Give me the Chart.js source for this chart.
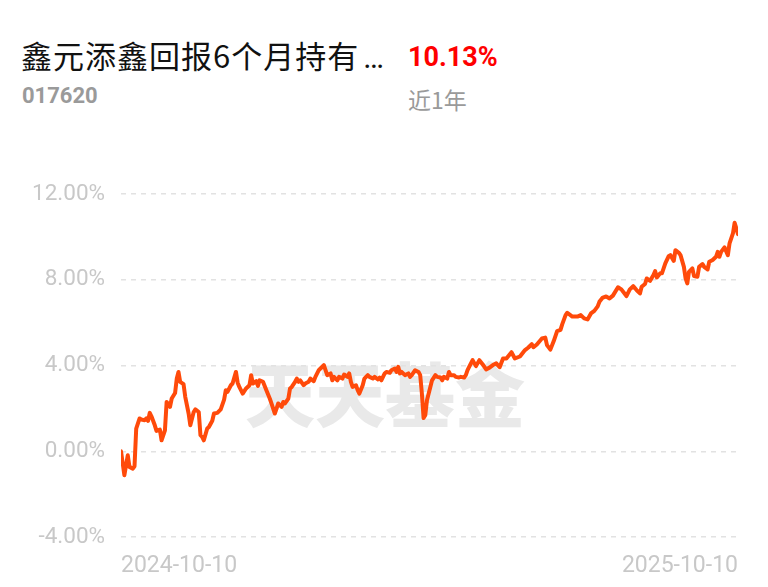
<!DOCTYPE html>
<html><head><meta charset="utf-8">
<script src="https://cdn.jsdelivr.net/npm/chart.js@4.4.0/dist/chart.umd.min.js"></script>
<style>
html,body{margin:0;padding:0;background:#fff;width:768px;height:587px;overflow:hidden;font-family:"Noto Sans CJK SC","Noto Sans",sans-serif;}
#wrap{position:relative;width:768px;height:587px;}
.t{position:absolute;white-space:nowrap;}
#title{left:21px;top:37px;font-size:31px;color:#111;line-height:36px;letter-spacing:1px;}
#title .el{font-family:Roboto,sans-serif;letter-spacing:1px;margin-left:4px;}
#ret{left:408px;top:39px;font-size:27px;color:#f00;font-weight:700;line-height:36px;font-family:Roboto,"Noto Sans",sans-serif;}
#code{left:22px;top:82px;font-size:22px;color:#9a9a9a;font-weight:700;line-height:28px;font-family:Roboto,"Noto Sans",sans-serif;}
#period{left:408px;top:84px;font-size:23px;color:#9a9a9a;line-height:30px;}
#wm{left:245px;top:356px;font-size:70px;line-height:72px;color:#e9e9e9;font-weight:900;}
canvas{position:absolute;left:0;top:0;}
</style></head>
<body><div id="wrap">
<div class="t" id="title">鑫元添鑫回报6个月持有<span class="el">…</span></div>
<div class="t" id="ret">10.13%</div>
<div class="t" id="code">017620</div>
<div class="t" id="period">近1年</div>
<div class="t" id="wm">天天基金</div>
<canvas id="c" width="768" height="587"></canvas>
</div>
<script>
const startDate = '2024-10-10';
const xTickLabels = ['2024-10-10', '2025-10-10'];
const yTickValues = [-4, 0, 4, 8, 12];
const days = [0,2,4,5,7,8,9,11,12,14,15,16,17,18,20,21,23,24,26,27,29,30,32,33,34,35,37,38,40,41,43,44,46,47,48,49,51,52,54,55,57,59,61,62,63,65,66,68,69,70,72,74,76,77,78,80,81,82,84,86,88,89,91,92,93,95,96,97,99,100,101,103,104,105,106,108,109,111,112,114,115,117,118,120,121,122,124,125,126,128,129,131,132,134,135,136,137,139,140,141,143,144,146,147,149,150,152,153,154,156,157,159,160,162,163,164,165,166,168,170,171,172,174,176,177,178,179,180,181,183,184,186,187,189,190,191,193,194,195,197,198,200,201,203,204,205,207,208,210,212,214,216,218,220,222,224,226,228,231,233,236,239,241,243,244,246,249,251,252,254,256,258,260,261,263,264,267,270,272,274,276,278,280,282,283,285,287,289,291,294,296,299,301,303,305,307,308,310,311,313,315,316,317,319,320,322,324,325,327,328,330,331,333,334,335,336,338,339,341,342,344,345,347,348,350,352,353,354,355,357,359,360,362,363,364,365];
const returns = [0.00,-1.12,-0.19,-0.73,-0.81,-0.70,1.06,1.53,1.48,1.45,1.53,1.42,1.79,1.63,1.21,0.95,1.01,0.51,0.98,2.30,2.07,2.46,2.72,3.39,3.70,3.24,3.13,2.54,1.76,1.21,1.83,1.95,1.83,0.75,0.67,0.51,1.06,1.13,1.42,1.76,1.79,1.95,2.41,2.85,2.77,3.08,3.16,3.70,3.20,3.00,2.69,2.93,3.08,3.55,3.16,3.27,3.05,3.31,3.24,2.85,2.46,2.23,1.76,1.99,2.23,2.07,2.30,2.23,2.46,2.93,3.00,3.24,3.39,3.24,3.31,3.08,3.16,3.24,3.39,3.27,3.47,3.78,3.86,4.02,3.78,3.55,3.63,3.31,3.47,3.31,3.47,3.39,3.58,3.47,3.63,3.24,3.00,3.08,2.85,2.69,3.08,3.39,3.55,3.47,3.39,3.47,3.35,3.44,3.31,3.63,3.70,3.66,3.78,3.86,3.70,3.94,3.63,3.70,3.55,3.63,3.47,3.55,3.78,3.70,3.55,2.69,1.55,1.68,2.38,3.00,3.31,3.55,3.47,3.44,3.31,3.47,3.39,3.70,3.55,3.55,3.47,3.44,3.47,3.44,3.55,3.78,4.10,4.25,3.97,4.25,4.05,3.82,3.90,4.02,4.10,3.92,4.33,4.33,4.62,4.33,4.42,4.72,4.84,5.00,4.85,4.98,5.26,5.30,4.95,4.74,5.14,5.60,5.66,5.92,6.35,6.46,6.28,6.28,6.35,6.20,6.15,6.43,6.55,6.76,6.97,7.17,7.22,7.13,7.26,7.65,7.55,7.24,7.55,7.70,7.52,7.36,7.67,7.80,8.06,7.95,8.22,8.40,8.11,8.30,8.30,8.76,9.10,9.15,8.88,9.38,9.26,9.15,8.60,8.06,7.83,8.37,8.53,8.17,8.14,8.60,8.73,8.60,8.48,8.84,8.92,9.07,9.30,9.07,9.30,9.51,9.15,9.70,10.16,10.66,10.40,10.13];

const points = days.map((d, i) => ({ x: d, y: returns[i] }));
const xFont = { family: 'Roboto, "Liberation Sans", sans-serif', size: 23 };
const yFont = { family: 'Roboto, "Liberation Sans", sans-serif', size: 22.5 };

new Chart(document.getElementById('c'), {
  type: 'line',
  data: { datasets: [{
    data: points,
    borderColor: '#ff4a0a',
    borderWidth: 4,
    pointRadius: 0,
    tension: 0,
    fill: false,
    borderJoinStyle: 'round',
    borderCapStyle: 'round'
  }]},
  options: {
    responsive: false,
    animation: false,
    layout: { padding: { top: 194, right: 30, bottom: 0, left: 0 } },
    plugins: { legend: { display: false }, tooltip: { enabled: false } },
    scales: {
      x: {
        type: 'linear', min: 0, max: 365,
        grid: { display: false, drawTicks: false },
        border: { display: false },
        afterBuildTicks: s => { s.ticks = [{ value: 0 }, { value: 365 }]; },
        afterFit: s => { s.height = 50; },
        ticks: {
          align: 'inner', maxRotation: 0, autoSkip: false, padding: 15,
          font: xFont, color: '#c8c8c8',
          callback: (v, i) => xTickLabels[i]
        }
      },
      y: {
        min: -4, max: 12,
        afterBuildTicks: s => { s.ticks = yTickValues.map(v => ({ value: v })); },
        afterFit: s => { s.width = 121; },
        grid: { color: '#e2e2e2', lineWidth: 1.5, drawTicks: false },
        border: { display: false, dash: [5, 5] },
        ticks: {
          padding: 16, font: yFont, color: '#c8c8c8',
          callback: v => v.toFixed(2) + '%'
        }
      }
    }
  }
});
</script>
</body></html>
